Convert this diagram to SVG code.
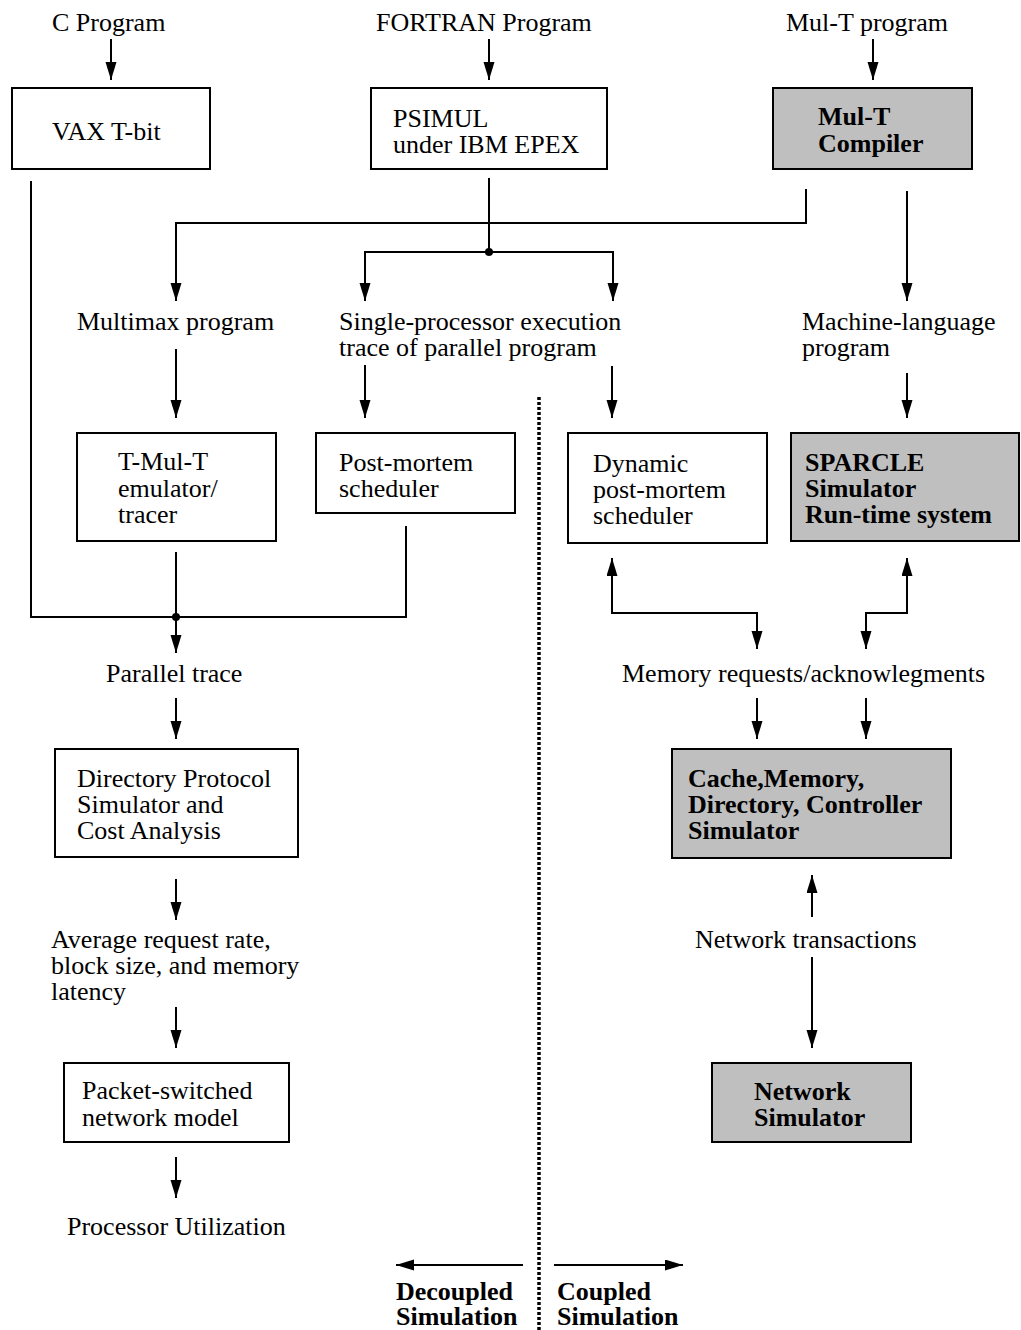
<svg xmlns="http://www.w3.org/2000/svg" width="1021" height="1330" viewBox="0 0 1021 1330">
<style>
text{font-family:"Liberation Serif","Times New Roman",serif;font-size:26px;fill:#000}
.b{font-weight:bold}
.box{fill:#fff;stroke:#000;stroke-width:2}
.gray{fill:#bfbfbf;stroke:#000;stroke-width:2}
.c{fill:none;stroke:#000;stroke-width:2}
.a{marker-end:url(#ah)}
.d{marker-start:url(#ah);marker-end:url(#ah)}
</style>
<defs>
<marker id="ah" markerUnits="userSpaceOnUse" markerWidth="20" markerHeight="12" refX="18" refY="5.5" orient="auto-start-reverse">
<path d="M0,0 L18,5.5 L0,11 z" fill="#000"/>
</marker>
</defs>
<rect width="1021" height="1330" fill="#fff"/>
<g id="connectors">
<path class="c a" d="M111,39 V80"/>
<path class="c a" d="M489,39 V80"/>
<path class="c a" d="M873,39 V80"/>
<path class="c" d="M31,181 V617 H406 V526"/>
<path class="c a" d="M176,552 V653"/>
<circle cx="176" cy="617" r="4" fill="#000"/>
<path class="c" d="M489,178 V252"/>
<path class="c a" d="M489,252 H365 V301"/>
<path class="c a" d="M489,252 H613 V301"/>
<circle cx="489" cy="252" r="4" fill="#000"/>
<path class="c a" d="M806,189 V223 H176 V301"/>
<path class="c a" d="M907,191 V301"/>
<path class="c a" d="M176,349 V418"/>
<path class="c a" d="M365,365 V418"/>
<path class="c a" d="M612,366 V418"/>
<path class="c a" d="M907,373 V418"/>
<path class="c d" d="M612,558 V613 H757 V649"/>
<path class="c d" d="M907,558 V613 H866 V649"/>
<path class="c a" d="M757,698 V739"/>
<path class="c a" d="M866,698 V739"/>
<path class="c a" d="M176,698 V739"/>
<path class="c a" d="M176,879 V920"/>
<path class="c a" d="M176,1007 V1048"/>
<path class="c a" d="M176,1157 V1198"/>
<path class="c a" d="M812,917 V875"/>
<path class="c a" d="M812,957 V1048"/>
<path class="c a" d="M523,1265 H396"/>
<path class="c a" d="M554,1265 H683"/>
<path d="M539,397 V1330" fill="none" stroke="#000" stroke-width="3.5" stroke-dasharray="3 2"/>
</g>
<g id="labels">
<text x="52" y="31">C Program</text>
<text x="376" y="31">FORTRAN Program</text>
<text x="786" y="31">Mul-T program</text>
<text x="77" y="330">Multimax program</text>
<text x="339" y="330">Single-processor execution</text>
<text x="339" y="356">trace of parallel program</text>
<text x="802" y="330">Machine-language</text>
<text x="802" y="356">program</text>
<text x="106" y="682">Parallel trace</text>
<text x="622" y="682">Memory requests/acknowlegments</text>
<text x="51" y="948">Average request rate,</text>
<text x="51" y="974">block size, and memory</text>
<text x="51" y="1000">latency</text>
<text x="695" y="948">Network transactions</text>
<text x="67" y="1235">Processor Utilization</text>
<text class="b" x="396" y="1300">Decoupled</text>
<text class="b" x="396" y="1325">Simulation</text>
<text class="b" x="557" y="1300">Coupled</text>
<text class="b" x="557" y="1325">Simulation</text>
</g>
<g id="vax"><rect class="box" x="12" y="88" width="198" height="81"/><text x="52" y="140">VAX T-bit</text></g>
<g id="psimul"><rect class="box" x="371" y="88" width="236" height="81"/><text x="393" y="127">PSIMUL</text><text x="393" y="153">under IBM EPEX</text></g>
<g id="multc"><rect class="gray" x="773" y="88" width="199" height="81"/><text class="b" x="818" y="125">Mul-T</text><text class="b" x="818" y="152">Compiler</text></g>
<g id="tmult"><rect class="box" x="77" y="433" width="199" height="108"/><text x="118" y="470">T-Mul-T</text><text x="118" y="497">emulator/</text><text x="118" y="523">tracer</text></g>
<g id="postmortem"><rect class="box" x="316" y="433" width="199" height="80"/><text x="339" y="471">Post-mortem</text><text x="339" y="497">scheduler</text></g>
<g id="dynamic"><rect class="box" x="568" y="433" width="199" height="110"/><text x="593" y="472">Dynamic</text><text x="593" y="498">post-mortem</text><text x="593" y="524">scheduler</text></g>
<g id="sparcle"><rect class="gray" x="791" y="433" width="228" height="108"/><text class="b" x="805" y="471">SPARCLE</text><text class="b" x="805" y="497">Simulator</text><text class="b" x="805" y="523">Run-time system</text></g>
<g id="directory"><rect class="box" x="55" y="749" width="243" height="108"/><text x="77" y="787">Directory Protocol</text><text x="77" y="813">Simulator and</text><text x="77" y="839">Cost Analysis</text></g>
<g id="cache"><rect class="gray" x="672" y="749" width="279" height="109"/><text class="b" x="688" y="787">Cache,Memory,</text><text class="b" x="688" y="813">Directory, Controller</text><text class="b" x="688" y="839">Simulator</text></g>
<g id="packet"><rect class="box" x="64" y="1063" width="225" height="79"/><text x="82" y="1099">Packet-switched</text><text x="82" y="1126">network model</text></g>
<g id="netsim"><rect class="gray" x="712" y="1063" width="199" height="79"/><text class="b" x="754" y="1100">Network</text><text class="b" x="754" y="1126">Simulator</text></g>
</svg>
